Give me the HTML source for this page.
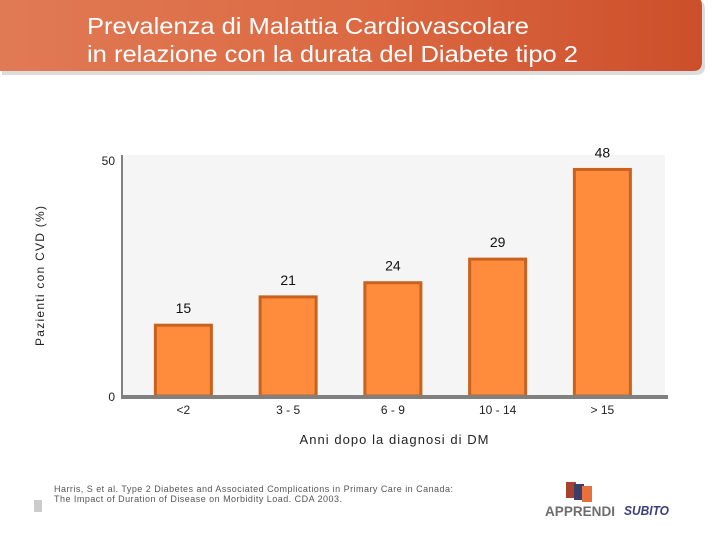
<!DOCTYPE html>
<html><head><meta charset="utf-8"><style>
body{margin:0;width:720px;height:540px;background:#fff;overflow:hidden;font-family:"Liberation Sans",sans-serif}
</style></head><body>
<svg width="720" height="540" xmlns="http://www.w3.org/2000/svg">
<defs>
<linearGradient id="hg" x1="0" x2="1" y1="0" y2="0"><stop offset="0" stop-color="#e07a55"/><stop offset="0.5" stop-color="#dc6a43"/><stop offset="1" stop-color="#cc4f2a"/></linearGradient>
</defs>
<g>
<path d="M0 0 H700 Q703 0 703 10 V64 Q703 73 694 73 H0 Z" fill="#b9b9b9" transform="translate(2,2)" opacity="0.5"/>
<path d="M0 0 H700 Q702 0 702 8 V62 Q702 71 693 71 H0 Z" fill="url(#hg)"/>
</g>
<text x="87" y="34" font-size="23" fill="#fff" textLength="442" lengthAdjust="spacingAndGlyphs">Prevalenza di Malattia Cardiovascolare</text>
<text x="87" y="62" font-size="23" fill="#fff" textLength="491" lengthAdjust="spacingAndGlyphs">in relazione con la durata del Diabete tipo 2</text>
<rect x="122" y="155" width="543" height="241" fill="#f5f5f5"/>
<g id="bars"></g>
<line x1="122" y1="155" x2="122" y2="398" stroke="#808080" stroke-width="2"/>
<line x1="121" y1="397" x2="668" y2="397" stroke="#808080" stroke-width="4"/>
<text x="115" y="165" font-size="12" text-anchor="end" fill="#222">50</text>
<text x="115" y="401" font-size="12" text-anchor="end" fill="#222">0</text>
<text transform="translate(44,276) rotate(-90)" font-size="12" text-anchor="middle" fill="#222" textLength="140" lengthAdjust="spacing">Pazienti con CVD (%)</text>
<text x="394" y="444" font-size="13" text-anchor="middle" fill="#222" textLength="189" lengthAdjust="spacing">Anni dopo la diagnosi di DM</text>
<text x="54" y="492" font-size="9" fill="#555" textLength="399" lengthAdjust="spacing">Harris, S et al. Type 2 Diabetes and Associated Complications in Primary Care in Canada:</text>
<text x="54" y="502" font-size="9" fill="#555" textLength="288" lengthAdjust="spacing">The Impact of Duration of Disease on Morbidity Load. CDA 2003.</text>
<rect x="34" y="500" width="8" height="12" fill="#ccc"/>
<g>
<rect x="566" y="482" width="10" height="16" fill="#a8412d"/>
<rect x="574" y="484" width="10" height="16" fill="#3a3f6a"/>
<rect x="582" y="486" width="10" height="16" fill="#e8703a"/>
<text x="545" y="516" font-size="14" font-weight="bold" fill="#6d6d6d" textLength="70" lengthAdjust="spacingAndGlyphs">APPRENDI</text>
<text x="624" y="515" font-size="13" font-weight="bold" font-style="italic" fill="#3a3f7a" textLength="45" lengthAdjust="spacingAndGlyphs">SUBITO</text>
</g>
</svg>
<script>
const categories=["<2","3 - 5","6 - 9","10 - 14","> 15"];
const values=[15,21,24,29,48];
const yMax=50;
const x0=131,band=104.75,bw=56,baseY=396,topY=160;
function y(v){return baseY-(baseY-topY)*v/yMax;}
function xc(i){return x0+band*(i+0.5);}
const g=document.getElementById('bars');
const ns="http://www.w3.org/2000/svg";
categories.forEach((c,i)=>{
 const r=document.createElementNS(ns,'rect');
 r.setAttribute('x',xc(i)-bw/2);r.setAttribute('y',y(values[i]));
 r.setAttribute('width',bw);r.setAttribute('height',baseY-y(values[i]));
 r.setAttribute('fill','#ff8c3c');r.setAttribute('stroke','#c8621e');r.setAttribute('stroke-width','3');
 
 
 g.appendChild(r);
 const t=document.createElementNS(ns,'text');
 t.setAttribute('x',xc(i));t.setAttribute('y',y(values[i])-12);
 t.setAttribute('font-size','14');t.setAttribute('text-anchor','middle');t.setAttribute('fill','#111');
 t.textContent=values[i];
 
 
 g.appendChild(t);
 const l=document.createElementNS(ns,'text');
 l.setAttribute('x',xc(i));l.setAttribute('y',414);
 l.setAttribute('font-size','12');l.setAttribute('text-anchor','middle');l.setAttribute('fill','#222');
 l.textContent=c;
 
 
 g.appendChild(l);
});
</script>
</body></html>
